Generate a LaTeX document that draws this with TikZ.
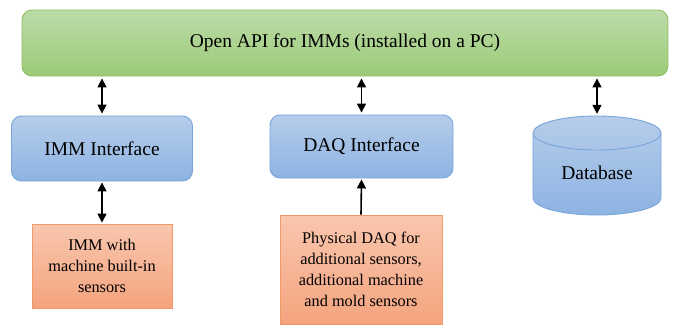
\documentclass[tikz,border=0pt]{standalone}
\usepackage{fontspec}
\setmainfont{Liberation Serif}
\usetikzlibrary{arrows.meta}

\definecolor{apiTop}{HTML}{BCDBA8}
\definecolor{apiBot}{HTML}{9CCB78}
\definecolor{apiLine}{HTML}{8CBF62}
\definecolor{ifTop}{HTML}{B6CDEA}
\definecolor{ifBot}{HTML}{8DB3E2}
\definecolor{ifLine}{HTML}{78A5DA}
\definecolor{hwTop}{HTML}{F9C6AE}
\definecolor{hwBot}{HTML}{F4A47E}
\definecolor{hwLine}{HTML}{F09A6A}

\tikzset{
  every node/.style={align=center, inner sep=0pt},
  bigtext/.style={font=\fontsize{19.5}{23}\selectfont},
  smalltext/.style={font=\fontsize{16.3}{21}\selectfont},
  apibox/.style={bigtext, draw=apiLine, line width=0.9pt, rounded corners=10pt,
    top color=apiTop, bottom color=apiBot},
  ifbox/.style={bigtext, draw=ifLine, line width=0.9pt, rounded corners=10pt,
    top color=ifTop, bottom color=ifBot},
  hwbox/.style={smalltext, draw=hwLine, line width=0.9pt,
    top color=hwTop, bottom color=hwBot},
  dblink/.style={line width=1.6pt, {Triangle[length=9pt,width=9pt]}-{Triangle[length=9pt,width=9pt]}},
  uplink/.style={line width=1.6pt, -{Triangle[length=9pt,width=9pt]}},
}

\begin{document}
\begin{tikzpicture}[x=1pt,y=1pt]
\useasboundingbox (0,0) rectangle (673,-325);

% main application layer
\node[apibox, minimum width=646pt, minimum height=66pt] (api) at (345,-43)
  {Open API for IMMs (installed on a PC)};

% interface layer
\node[ifbox, minimum width=181pt, minimum height=65pt] (imm) at (102,-148.5) {IMM Interface};
\node[ifbox, minimum width=183pt, minimum height=63pt] (daq) at (361.5,-146.5) {DAQ Interface};

% database cylinder
\path[draw=ifLine, line width=0.9pt, top color=ifTop, bottom color=ifBot]
  (533,-133) -- (533,-198)
  arc[start angle=180, end angle=360, x radius=64, y radius=17]
  -- (661,-133)
  arc[start angle=0, end angle=180, x radius=64, y radius=17] -- cycle;
\draw[ifLine, line width=0.9pt] (533,-133)
  arc[start angle=180, end angle=360, x radius=64, y radius=17];
\node[minimum width=128pt, minimum height=99pt] (db) at (597,-165.5) {};
\node[bigtext] at (597,-173) {Database};

% hardware layer
\node[hwbox, minimum width=140pt, minimum height=84pt] (immhw) at (102,-266)
  {IMM with\\machine built-in\\sensors};
\node[hwbox, minimum width=162pt, minimum height=109pt] (daqhw) at (361,-269.5)
  {Physical DAQ for\\additional sensors,\\additional machine\\and mold sensors};

% connectors
\draw[dblink] ([yshift=-2pt]api.south -| imm.north) -- ([yshift=2pt]imm.north);
\draw[dblink] ([yshift=-2pt]api.south -| daq.north) -- ([yshift=2pt]daq.north);
\draw[dblink] ([yshift=-2pt]api.south -| db.north) -- ([yshift=2pt]db.north);
\draw[dblink] ([yshift=-1pt]imm.south) -- ([yshift=1pt]immhw.north);
\draw[uplink] (daqhw.north) -- ([yshift=-1pt]daq.south);
\end{tikzpicture}
\end{document}
